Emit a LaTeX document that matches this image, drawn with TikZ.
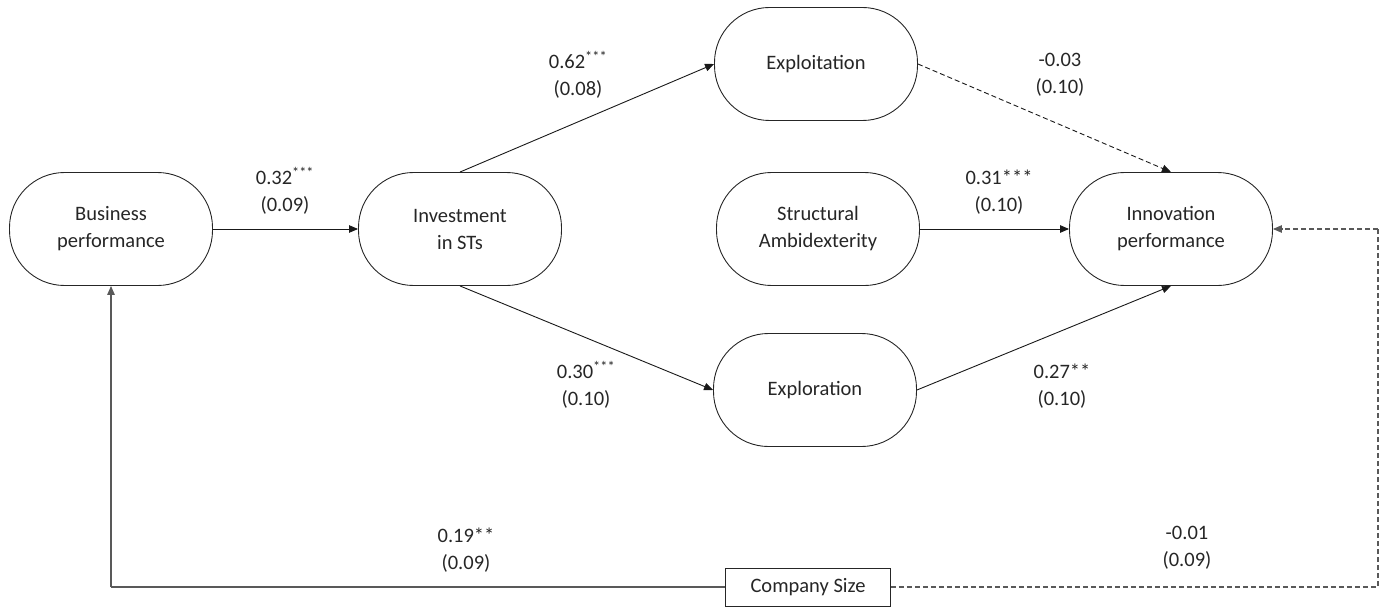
\documentclass[tikz,border=0pt]{standalone}
\usepackage{fontspec}
\setmainfont{Carlito}
\usetikzlibrary{arrows.meta}
\tikzset{
  every node/.style={font=\fontsize{20.5}{27}\selectfont, text=black!85},
  latent/.style={draw=black!85, line width=0.9pt, rounded corners=55pt,
    minimum width=203pt, minimum height=113pt, align=center, inner sep=0pt},
  ctrlbox/.style={draw=black!85, line width=0.9pt, minimum width=165pt,
    minimum height=38pt, inner sep=0pt},
  coef/.style={align=center, inner sep=0pt},
  path/.style={draw=black!90, line width=0.9pt, -{Triangle[length=9pt,width=7.5pt]}},
  nspath/.style={path, dash pattern=on 5pt off 3pt},
  ctrl/.style={draw=black!65, line width=1.2pt},
  ctrlns/.style={draw=black!65, line width=1.1pt, dash pattern=on 5pt off 3pt},
}
\begin{document}
\begin{tikzpicture}[x=1pt,y=-1pt]
\useasboundingbox (0,0) rectangle (1382,607);
\node[latent] (bp) at (111,229) {Business\\performance};
\node[latent] (ist) at (460,229) {Investment\\in STs};
\node[latent] (exploit) at (816,64) {Exploitation};
\node[latent] (struct) at (818,229) {Structural\\Ambidexterity};
\node[latent] (explor) at (815,390) {Exploration};
\node[latent] (inn) at (1171,229) {Innovation\\performance};
\node[ctrlbox] (cs) at (808,587) {Company Size};

\coordinate (csl) at (bp.south |- cs.west);
\coordinate (csr1) at (1378,587);
\coordinate (csr2) at (1378,229);

\draw[path] (bp.east) -- (ist.west);
\draw[path] (ist.north) -- (exploit.west);
\draw[path] (ist.south) -- (explor.west);
\draw[nspath] (exploit.east) -- (inn.north);
\draw[path] (struct.east) -- (inn.west);
\draw[path] (explor.east) -- (inn.south);
\draw[ctrl] (cs.west) -- (csl);
\draw[ctrl, -{Triangle[length=9pt,width=7.5pt]}] (csl) -- (bp.south);
\draw[ctrlns] (cs.east) -- (csr1) -- (csr2);
\draw[ctrlns, -{Triangle[length=9pt,width=7.5pt]}] (csr2) -- (inn.east);

\node[coef] (l1) at (285,191) {0.32\textsuperscript{***}\\(0.09)};
\node[coef] (l2) at (578,75) {0.62\textsuperscript{***}\\(0.08)};
\node[coef] (l3) at (1060,75) {-0.03\\(0.10)};
\node[coef] (l4) at (999,192) {0.31***\\(0.10)};
\node[coef] (l5) at (586,385) {0.30\textsuperscript{***}\\(0.10)};
\node[coef] (l6) at (1062,386) {0.27**\\(0.10)};
\node[coef] (l7) at (466,550) {0.19**\\(0.09)};
\node[coef] (l8) at (1187,548) {-0.01\\(0.09)};
\end{tikzpicture}
\end{document}
